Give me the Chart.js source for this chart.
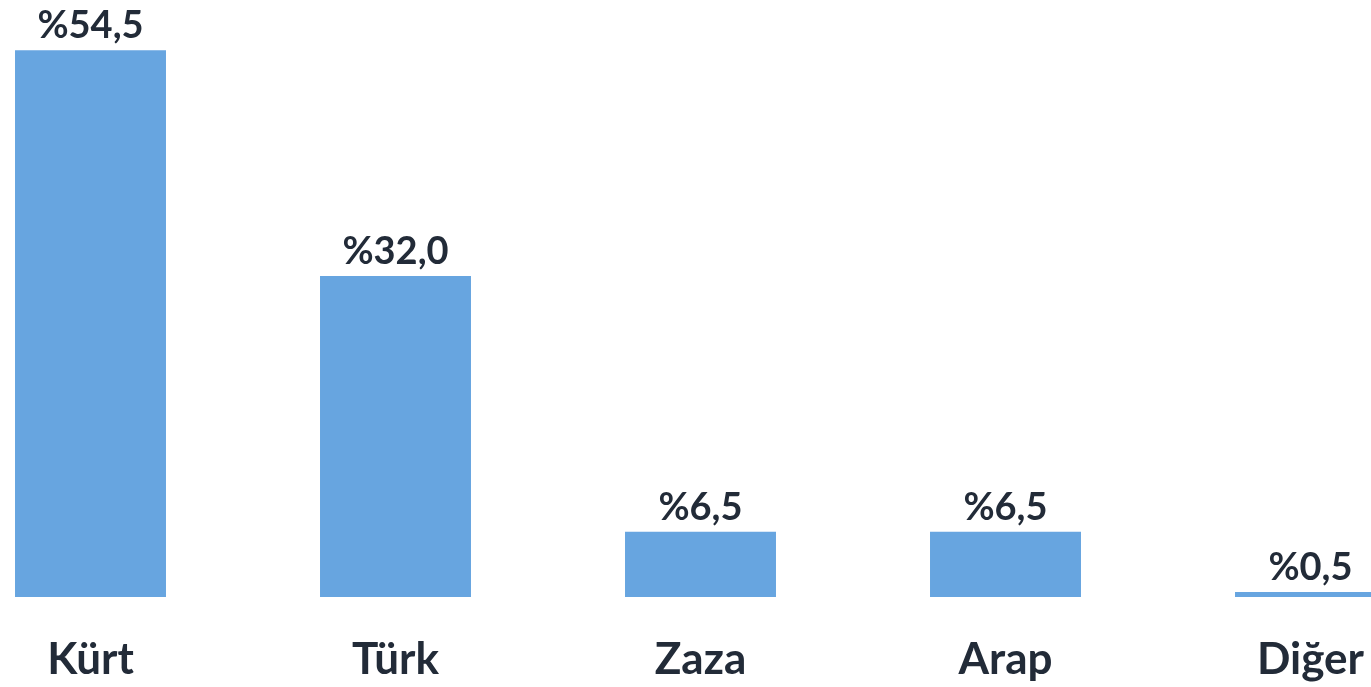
<!DOCTYPE html>
<html>
<head>
<meta charset="utf-8">
<script src="https://cdn.jsdelivr.net/npm/chart.js"></script>
<style>
  html, body { margin: 0; padding: 0; background: #fff; overflow: hidden; width: 1371px; height: 687px; }
  #wrap { position: absolute; left: -62px; top: 0; width: 1525px; height: 687px; }
</style>
</head>
<body>
<div id="wrap"><canvas id="bar-chart" width="1525" height="687"></canvas></div>
<script>
var categories = ['Kürt', 'Türk', 'Zaza', 'Arap', 'Diğer'];
var shares = [54.5, 32.0, 6.5, 6.5, 0.5];
var valueLabels = ['%54,5', '%32,0', '%6,5', '%6,5', '%0,5'];

var textColor = '#222b38';
var fontName = 'Lato, "Open Sans", sans-serif';

// draws the percentage above each bar
var valueLabelPlugin = {
  id: 'valueLabels',
  afterDatasetsDraw: function(chart) {
    var ctx = chart.ctx;
    var meta = chart.getDatasetMeta(0);
    ctx.save();
    ctx.fillStyle = textColor;
    ctx.font = 'bold 38px ' + fontName;
    ctx.textAlign = 'center';
    ctx.textBaseline = 'alphabetic';
    meta.data.forEach(function(bar, i) {
      ctx.fillText(valueLabels[i], bar.x, bar.y - 12);
    });
    ctx.restore();
  }
};

new Chart(document.getElementById('bar-chart'), {
  type: 'bar',
  data: {
    labels: categories,
    datasets: [{
      data: shares,
      backgroundColor: '#67a5e0',
      borderWidth: 0,
      categoryPercentage: 1,
      barPercentage: 0.495
    }]
  },
  options: {
    responsive: false,
    animation: false,
    devicePixelRatio: 1,
    layout: { padding: 0 },
    plugins: {
      legend: { display: false },
      tooltip: { enabled: false }
    },
    scales: {
      y: {
        display: false,
        min: 0,
        max: 59.5
      },
      x: {
        grid: { display: false, drawTicks: false },
        border: { display: false },
        ticks: {
          color: textColor,
          font: { family: fontName, size: 44, weight: 'bold' },
          padding: 36
        },
        afterFit: function(scale) { scale.height = 90; }
      }
    }
  },
  plugins: [valueLabelPlugin]
});
</script>
</body>
</html>
